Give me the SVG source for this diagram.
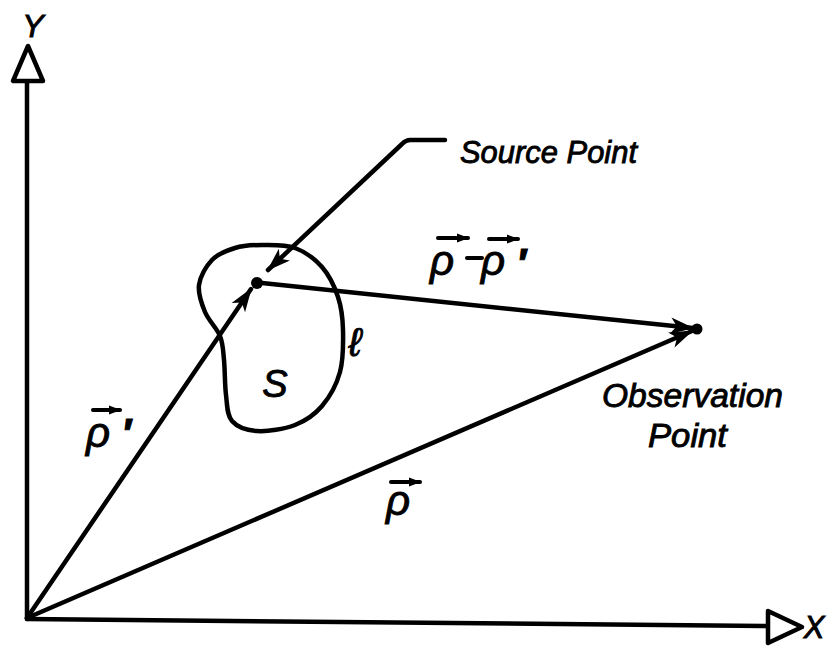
<svg xmlns="http://www.w3.org/2000/svg" width="835" height="647" viewBox="0 0 835 647">
<style>
.ln{stroke:#000;stroke-width:4.5;fill:none;stroke-linecap:round;stroke-linejoin:round}
.tri{stroke:#000;stroke-width:4.5;fill:#fff;stroke-linejoin:round}
.lbl{font-family:"Liberation Sans",Arial,sans-serif;font-style:italic;fill:#000;stroke:#000;stroke-width:0.9}
.va{stroke:#000;stroke-width:4;fill:none;stroke-linecap:round}
</style>
<defs>
<marker id="ah" markerUnits="userSpaceOnUse" markerWidth="30" markerHeight="20" viewBox="-20 -8 22 16" refX="0" refY="0" orient="auto">
<path d="M1,0 L-18,-6.5 L-13,0 L-18,6.5 Z" fill="#000"/>
</marker>
<marker id="sa" markerUnits="userSpaceOnUse" markerWidth="16" markerHeight="12" viewBox="-12 -6 14 12" refX="0" refY="0" orient="auto">
<path d="M1,0 L-11,-4.5 L-11,4.5 Z" fill="#000"/>
</marker>
</defs>
<rect width="835" height="647" fill="#fff"/>

<g id="axes">
<line class="ln" x1="27" y1="619" x2="27" y2="81"/>
<polygon class="tri" points="28,46 13,81 43,81"/>
<line class="ln" x1="27" y1="619" x2="768" y2="626"/>
<polygon class="tri" points="768,611 802,627 768,643"/>
<text class="lbl" x="33" y="37" font-size="32" text-anchor="middle">Y</text>
<text class="lbl" x="814" y="638" font-size="31" text-anchor="middle">X</text>
</g>

<g id="region-S">
<path class="ln" stroke-width="5" d="M262,245 C272,245 285,244.3 295,248 C305,251.7 314.8,258.8 322,267 C329.2,275.2 334.5,286.5 338,297 C341.5,307.5 342.7,317.5 343,330 C343.3,342.5 343.5,359.3 340,372 C336.5,384.7 329.5,397.2 322,406 C314.5,414.8 305.8,420.8 295,425 C284.2,429.2 267.5,431.7 257,431 C246.5,430.3 237.2,427 232,421 C226.8,415 227.3,405.2 226,395 C224.7,384.8 225,369.8 224,360 C223,350.2 223.2,344 220,336 C216.8,328 208.5,320.5 205,312 C201.5,303.5 197.8,293.7 199,285 C200.2,276.3 206,266.2 212,260 C218,253.8 226.7,250.5 235,248 C243.3,245.5 252,245 262,245 Z"/>
<text class="lbl" x="275" y="397" font-size="38" text-anchor="middle">S</text>
<text class="lbl" x="355" y="356" font-size="40" text-anchor="middle">ℓ</text>
</g>

<g id="source-point">
<circle cx="257" cy="283" r="6" fill="#000"/>
<text class="lbl" x="460" y="163" font-size="32" textLength="177" lengthAdjust="spacingAndGlyphs">Source Point</text>
</g>

<g id="observation-point">
<circle cx="697" cy="329" r="5.5" fill="#000"/>
<text class="lbl" x="602" y="407" font-size="34" textLength="181" lengthAdjust="spacingAndGlyphs">Observation</text>
<text class="lbl" x="648" y="447" font-size="34" textLength="79" lengthAdjust="spacingAndGlyphs">Point</text>
</g>

<g id="connectors">
<path class="ln" d="M445,140 L410,140 Q406,140 402,144 L268,270" marker-end="url(#ah)"/>
<line class="ln" x1="27" y1="618" x2="251" y2="289" marker-end="url(#ah)"/>
<line class="ln" x1="262" y1="283" x2="693" y2="328" marker-end="url(#ah)"/>
<line class="ln" x1="27" y1="618" x2="692" y2="331" marker-end="url(#ah)"/>
</g>

<g id="vector-labels">
<line class="va" x1="93" y1="410" x2="120" y2="410" marker-end="url(#sa)"/>
<text class="lbl" x="86" y="447" font-size="42">ρ</text>
<text class="lbl" x="121" y="448" font-size="42" font-weight="bold">′</text>

<line class="va" x1="391" y1="482" x2="420" y2="482" marker-end="url(#sa)"/>
<text class="lbl" x="386" y="515" font-size="42">ρ</text>

<line class="va" x1="438" y1="238" x2="468" y2="238" marker-end="url(#sa)"/>
<text class="lbl" x="430" y="275" font-size="42">ρ</text>
<line class="va" x1="467" y1="258" x2="482" y2="258"/>
<line class="va" x1="489" y1="239" x2="518" y2="239" marker-end="url(#sa)"/>
<text class="lbl" x="516" y="278" font-size="42" font-weight="bold">′</text>
<text class="lbl" x="481" y="275" font-size="42">ρ</text>
</g>
</svg>
